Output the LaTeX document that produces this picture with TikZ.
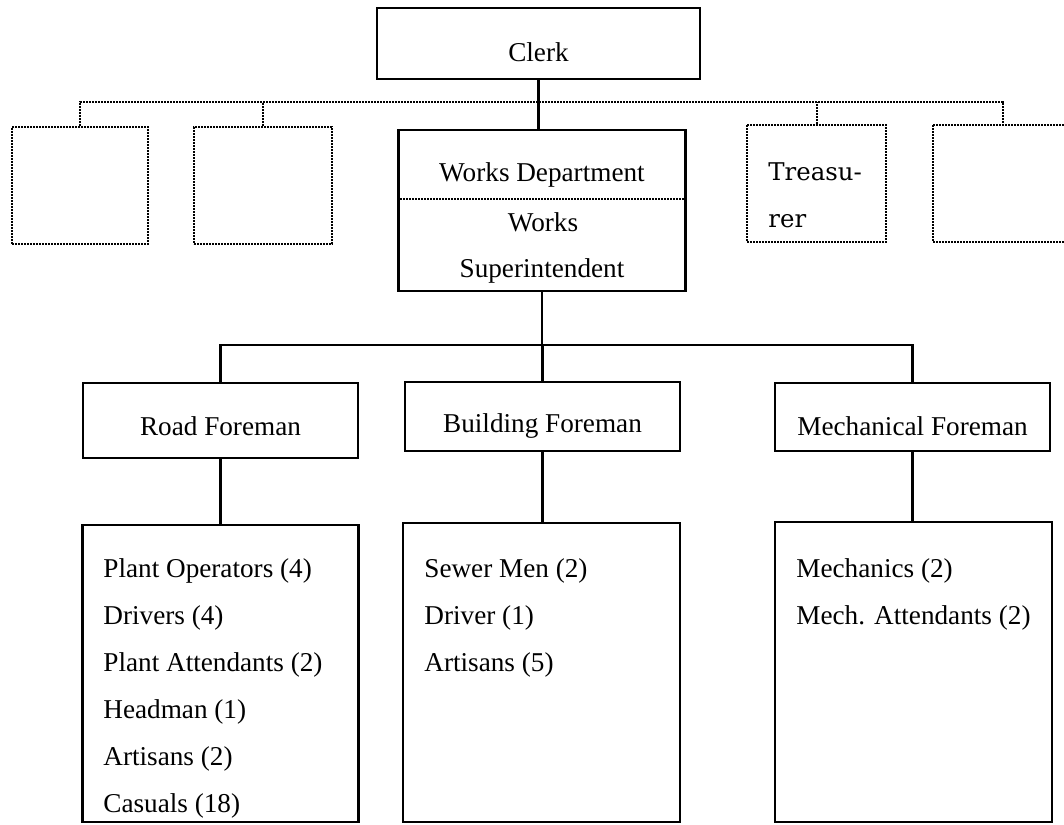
\documentclass[tikz,border=0pt]{standalone}
\usepackage{fontspec}
\setmainfont{Liberation Serif}
\newfontfamily\schfont{DejaVu Serif}
\begin{document}
\begin{tikzpicture}[x=0.5pt,y=-0.5pt,
  dotline/.style={line width=1pt, dash pattern=on 0.9pt off 0.6pt},
  solidbox/.style 2 args={draw, line width=1.2pt, inner sep=0pt,
    minimum width=#1*0.5pt, minimum height=#2*0.5pt},
  dotbox/.style 2 args={draw, dotline, inner sep=0pt,
    minimum width=#1*0.5pt, minimum height=#2*0.5pt},
  link/.style={line width=1.2pt},
  lbl/.style={font=\fontsize{13.6pt}{16pt}\selectfont, inner sep=0pt},
  item/.style={lbl, anchor=west},
  tlbl/.style={font=\schfont\fontsize{12.2pt}{15pt}\selectfont, inner sep=0pt, anchor=west},
]
\useasboundingbox (0,0) rectangle (1064,824);

% top level
\node[solidbox={323}{71}] (clerk) at (538.5,43.5) {};
\node[lbl] (clerkt) at (538.5,52) {Clerk};

% sibling departments (dotted)
\node[dotbox={136}{117}] (d1) at (80,185.5) {};
\node[dotbox={138}{117}] (d2) at (263,185.5) {};
\node[dotbox={139}{117}] (treas) at (816.5,183) {};
\node[dotbox={139}{117}] (d5) at (1002.5,183) {};
\node[tlbl] (treast1) at (768,172) {Treasu-};
\node[tlbl] (treast2) at (768,221) {rer};

% works department
\node[solidbox={287}{161}] (works) at (542,210.5) {};
\draw[dotline] (works.west |- 0,199) -- (works.east |- 0,199);
\node[lbl] (workst1) at (542,175) {Works Department};
\node[lbl] (workst2) at (543,222) {Works};
\node[lbl] (workst3) at (542,271) {Superintendent};

% dotted bus from the clerk
\coordinate (bus) at (0,102);
\draw[dotline] (d1.north) -- (d1.north |- bus) -- (d5.north |- bus) -- (d5.north);
\draw[dotline] (d2.north) -- (d2.north |- bus);
\draw[dotline] (treas.north) -- (treas.north |- bus);
\draw[link] (clerk.south) -- (clerk.south |- works.north);

% foremen
\node[solidbox={275}{75}] (road) at (220.5,420.5) {};
\node[solidbox={275}{69}] (build) at (542.5,416.5) {};
\node[solidbox={275}{68}] (mech) at (912.5,417) {};
\node[lbl] (roadt) at (220.5,426) {Road Foreman};
\node[lbl] (buildt) at (542.5,426) {Building Foreman};
\node[lbl] (mecht) at (912.5,426) {Mechanical Foreman};

\coordinate (bus2) at (0,345);
\draw[link] (works.south) -- (works.south |- bus2);
\draw[link] (road.north) -- (road.north |- bus2) -- (mech.north |- bus2) -- (mech.north);
\draw[link] (build.north) -- (build.north |- bus2);

% staff lists
\node[solidbox={276}{297}] (roadlist) at (220.5,673.5) {};
\node[solidbox={277}{299}] (buildlist) at (541.5,672.5) {};
\node[solidbox={277}{300}] (mechlist) at (913.5,672) {};
\draw[link] (road.south) -- (road.south |- roadlist.north);
\draw[link] (build.south) -- (build.south |- buildlist.north);
\draw[link] (mech.south) -- (mech.south |- mechlist.north);

\node[item] (r1) at (103,571) {Plant Operators (4)};
\node[item] (r2) at (103,618) {Drivers (4)};
\node[item] (r3) at (103,665) {Plant Attendants (2)};
\node[item] (r4) at (103,712) {Headman (1)};
\node[item] (r5) at (103,759) {Artisans (2)};
\node[item] (r6) at (103,806) {Casuals (18)};

\node[item] (b1) at (424,571) {Sewer Men (2)};
\node[item] (b2) at (424,618) {Driver (1)};
\node[item] (b3) at (424,665) {Artisans (5)};

\node[item] (m1) at (796,571) {Mechanics (2)};
\node[item] (m2) at (796,618) {Mech. Attendants (2)};
\end{tikzpicture}
\end{document}
